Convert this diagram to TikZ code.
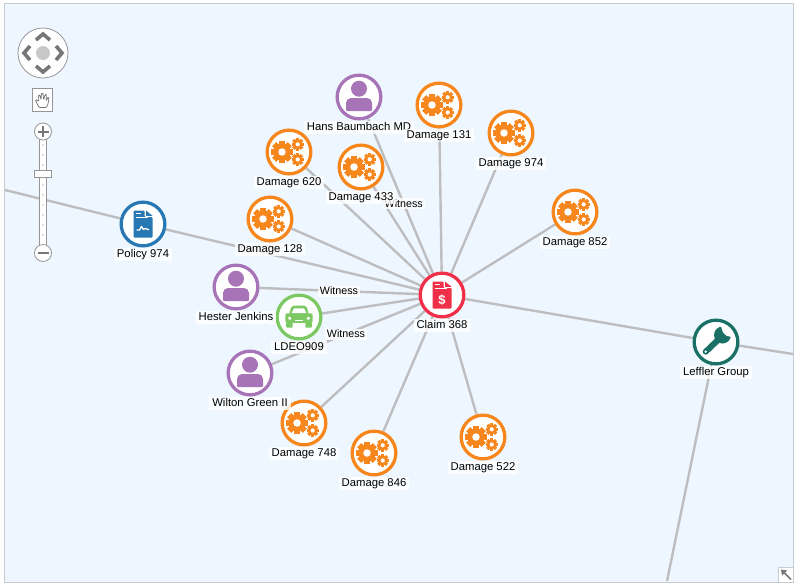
\documentclass[tikz,border=0pt]{standalone}
\usepackage{fontspec}
\setmainfont{Liberation Sans}
\definecolor{PanelBlue}{RGB}{238,247,255}
\definecolor{PanelEdge}{RGB}{200,204,208}
\definecolor{LinkGrey}{RGB}{190,190,192}
\definecolor{NavDark}{RGB}{118,118,120}
\definecolor{NavEdge}{RGB}{150,150,152}
\definecolor{DamageOrange}{RGB}{247,134,28}
\definecolor{PersonPurple}{RGB}{168,116,184}
\definecolor{CarGreen}{RGB}{124,200,98}
\definecolor{ClaimRed}{RGB}{240,48,72}
\definecolor{PolicyBlue}{RGB}{40,120,180}
\definecolor{GroupTeal}{RGB}{26,112,100}
\usetikzlibrary{arrows.meta,positioning,backgrounds}
\newcommand{\gearat}[3]{%
  \foreach \a in {0,45,...,315}{\fill[shift={(#1,#2)},rotate=\a] (-#3*.27,0) rectangle (#3*.27,#3);}
  \fill (#1,#2) circle (#3*.78);
  \fill[white] (#1,#2) circle (#3*.34);}
\tikzset{
  pics/gears/.style={code={
    \begin{scope}[DamageOrange]
      \gearat{-7}{0}{11}
      \gearat{8.7}{-7.7}{6.2}
      \gearat{8.7}{7.5}{6.2}
    \end{scope}}},
  pics/person/.style={code={
    \fill[PersonPurple] (0,-8.3) circle (8);
    \fill[PersonPurple] (-13,14) [rounded corners=1pt] -- (-13,8) [rounded corners=5pt] -- (-13,1) -- (13,1) [rounded corners=1pt] -- (13,14) -- cycle;}},
  pics/docsheet/.style={code={
    \fill[#1,rounded corners=1pt] (-9.5,-13.5) -- (1.7,-13.5) -- (1.7,-7) -- (9.5,-7) -- (9.5,13.5) -- (-9.5,13.5) -- cycle;
    \fill[#1] (3,-13.5) -- (9.5,-8.2) -- (3,-8.2) -- cycle;
    \fill[white] (-7,-11.2) rectangle (-1.7,-9.8);
    \fill[white] (-7,-7) rectangle (5,-5.6);}},
  pics/wrench/.style={code={
    \draw[GroupTeal,line width=6pt,line cap=round] (-10.3,9.7) -- (4,-4);
    \fill[GroupTeal] (6.5,-7) circle (8.5);
    \fill[white] (4.5,-17) -- (7,-9.5) -- (10,-6.5) -- (17,-4.5) -- (14,-14) -- cycle;
    \fill[white] (-10.3,9.7) circle (1.3);}},
  pics/car/.style={code={
    \fill[CarGreen,rounded corners=2pt] (-10,-2) -- (-7.5,-11.3) -- (7.5,-11.3) -- (10,-2) -- cycle;
    \fill[white] (-7.5,-3.7) -- (-5,-8.7) -- (5,-8.7) -- (7.5,-3.7) -- cycle;
    \fill[CarGreen,rounded corners=2pt] (-13.7,-3.7) rectangle (13.7,5.8);
    \fill[CarGreen,rounded corners=1pt] (-13,5) rectangle (-6.3,10.7);
    \fill[CarGreen,rounded corners=1pt] (6.3,5) rectangle (13,10.7);
    \fill[white] (-9.3,1.3) circle (1.8);
    \fill[white] (9.3,1.3) circle (1.8);
    \fill[white] (-4,3) rectangle (4,4.4);}}
}
\begin{document}
\begin{tikzpicture}[
    x=1pt, y=-1pt,
    entity/.style={circle, draw, line width=3.3pt, fill=white, inner sep=0pt,
                   minimum size=43.7pt},
    damage/.style={entity, draw=DamageOrange},
    person/.style={entity, draw=PersonPurple},
    lbl/.style={font=\fontsize{11.3}{13}\selectfont, fill=white, fill opacity=.8,
                text opacity=1, text=black, inner xsep=3pt, inner ysep=1pt,
                text height=8.5pt, text depth=2.5pt},
    wit/.style={font=\fontsize{10.7}{12}\selectfont, fill=white, fill opacity=.8,
                text opacity=1, text=black, inner xsep=2pt, inner ysep=1pt,
                text height=8pt, text depth=1pt},
    lnk/.style={LinkGrey, line width=2.4pt},
    navbtn/.style={circle, draw=NavEdge, line width=.8pt, fill=white, inner sep=0pt},
    navmark/.style={NavDark, line width=2pt}
  ]
  \useasboundingbox (0,0) rectangle (799,587);

  % entities
  \node[person] (hans)    at (359,97)  {};
  \node[damage] (dmgb)    at (439,105) {};
  \node[damage] (dmgc)    at (511,133) {};
  \node[damage] (dmgf)    at (289,152) {};
  \node[damage] (dmgd)    at (361,167) {};
  \node[damage] (dmgh)    at (575,212) {};
  \node[damage] (dmga)    at (270,219) {};
  \node[entity, draw=PolicyBlue] (policy) at (143,224) {};
  \node[entity, draw=ClaimRed]   (claim)  at (442,295) {};
  \node[person] (hester)  at (236,287) {};
  \node[entity, draw=CarGreen]   (ldeo)   at (299,317) {};
  \node[person] (wilton)  at (250,373) {};
  \node[damage] (dmgg)    at (304,423) {};
  \node[damage] (dmgk)    at (374,453) {};
  \node[damage] (dmge)    at (483,437) {};
  \node[entity, draw=GroupTeal]  (leffler) at (716,342) {};

  % free ends at the panel edge
  \coordinate (offleft)   at (5,190);
  \coordinate (offright)  at (793,354);
  \coordinate (offbottom) at (667,581);

  \begin{scope}[on background layer]
    \fill[white] (0,0) rectangle (799,587);
    \draw[PanelEdge, fill=PanelBlue, line width=.8pt] (4.5,3.5) rectangle (793.5,582);
    \foreach \n in {dmga,dmgb,dmgc,dmgd,dmge,dmgf,dmgg,dmgh,dmgk,policy,ldeo,leffler}
      \draw[lnk] (\n) -- (claim);
    \draw[lnk] (policy) -- (offleft);
    \draw[lnk] (leffler) -- (offright);
    \draw[lnk] (leffler) -- (offbottom);
    \draw[lnk] (hans) -- node[wit, pos=.55] (witb) {Witness} (claim);
    \draw[lnk] (hester) -- node[wit] (wita) {Witness} (claim);
    \draw[lnk] (wilton) -- node[wit] (witc) {Witness} (claim);
  \end{scope}

  % icons
  \foreach \n in {dmga,dmgb,dmgc,dmgd,dmge,dmgf,dmgg,dmgh,dmgk}
    \pic at (\n) {gears};
  \foreach \n in {hans,hester,wilton}
    \pic at (\n) {person};
  \pic at (ldeo) {car};
  \pic at (leffler) {wrench};
  \pic at (policy) {docsheet=PolicyBlue};
  \draw[white, line width=1.3pt, line join=round] ([shift={(-6.5,6)}]policy.center) -- ++(3,0) -- ++(2,-3.5) -- ++(2,3) -- ++(1.5,-1) -- ++(4,1.2);
  \pic at (claim) {docsheet=ClaimRed};
  \node[white, font=\fontsize{13}{13}\bfseries\selectfont, inner sep=0pt] (dollar) at ([yshift=-4.7pt]claim.center) {\$};

  % labels
  \node[lbl, below=0pt of hans]    (hanst)    {Hans Baumbach MD};
  \node[lbl, below=0pt of dmgb]    (dmgbt)    {Damage 131};
  \node[lbl, below=0pt of dmgc]    (dmgct)    {Damage 974};
  \node[lbl, below=0pt of dmgf]    (dmgft)    {Damage 620};
  \node[lbl, below=0pt of dmgd]    (dmgdt)    {Damage 433};
  \node[lbl, below=0pt of dmgh]    (dmght)    {Damage 852};
  \node[lbl, below=0pt of dmga]    (dmgat)    {Damage 128};
  \node[lbl, below=0pt of policy]  (policyt)  {Policy 974};
  \node[lbl, below=0pt of claim]   (claimt)   {Claim 368};
  \node[lbl, below=0pt of hester]  (hestert)  {Hester Jenkins};
  \node[lbl, below=0pt of ldeo]    (ldeot)    {LDEO909};
  \node[lbl, below=0pt of wilton]  (wiltont)  {Wilton Green II};
  \node[lbl, below=0pt of dmgg]    (dmggt)    {Damage 748};
  \node[lbl, below=0pt of dmgk]    (dmgkt)    {Damage 846};
  \node[lbl, below=0pt of dmge]    (dmget)    {Damage 522};
  \node[lbl, below=0pt of leffler] (leffrt)   {Leffler Group};

  % pan control
  \node[navbtn, minimum size=50pt] (pan) at (43,53) {};
  \fill[LinkGrey!85] (pan.center) circle (7);
  \draw[navmark, line width=3.6pt] (36,40) -- (43,34) -- (50,40);
  \draw[navmark, line width=3.6pt] (36,66) -- (43,72) -- (50,66);
  \draw[navmark, line width=3.6pt] (30,46) -- (24,53) -- (30,60);
  \draw[navmark, line width=3.6pt] (56,46) -- (62,53) -- (56,60);

  % hand button
  \node[draw=NavEdge, line width=.8pt, fill=white, minimum width=20pt, minimum height=23pt, inner sep=0pt] (hand) at (42.5,100) {};
  \draw[NavDark, line width=.7pt, fill=white, rounded corners=1pt]
    (39,107.5) -- (35.5,100.5) -- (36.5,99.5) -- (38.8,101.5) -- (38.5,95.5) -- (40,95) -- (41,100)
    -- (41.5,93.5) -- (43,93.5) -- (43.7,100) -- (45,94.5) -- (46.5,95) -- (46,101)
    -- (47.8,97.5) -- (49,98) -- (48,104) -- (46.5,107.5) -- cycle;

  % zoom slider
  \draw[NavEdge, line width=.8pt, fill=white] (39.5,135) rectangle (46.5,250);
  \foreach \y in {145,155,...,245}
    \fill[LinkGrey] (43,\y) circle (.9);
  \node[navbtn, minimum size=17pt] (zoomin)  at (43,131.5) {};
  \node[navbtn, minimum size=17pt] (zoomout) at (43,253) {};
  \draw[navmark] (37.5,131.5) -- (48.5,131.5);
  \draw[navmark] (43,126) -- (43,137);
  \draw[navmark] (37.5,253) -- (48.5,253);
  \node[draw=NavEdge, line width=.8pt, fill=white, minimum width=17pt, minimum height=7pt, inner sep=0pt] (thumb) at (43,173.5) {};

  % resize corner
  \node[draw=PanelEdge, line width=.8pt, fill=white, minimum size=15pt, inner sep=0pt] (corner) at (786,574.5) {};
  \draw[-{Triangle[length=5pt,width=7pt]}, NavDark, line width=1.6pt] (791,579.5) -- (781,569.5);
\end{tikzpicture}
\end{document}
